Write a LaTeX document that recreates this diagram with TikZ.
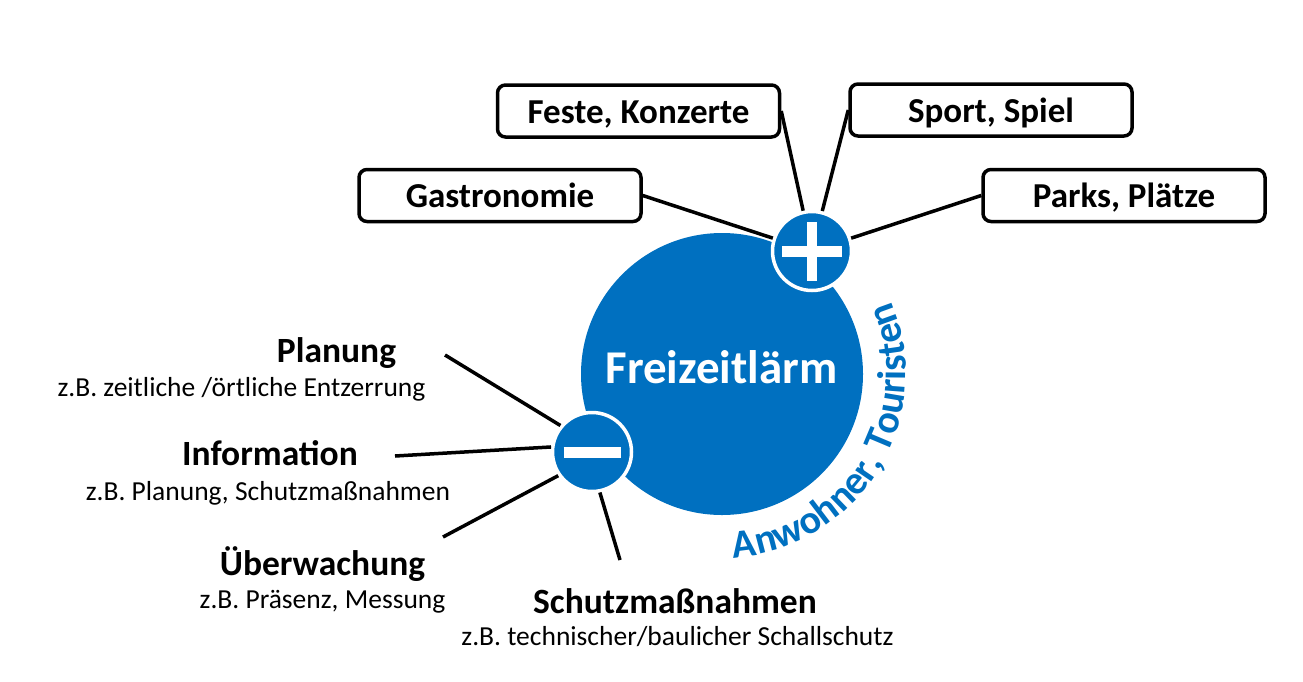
\documentclass[tikz,border=0pt]{standalone}
\usepackage{fontspec}
\setmainfont{Carlito}
\usetikzlibrary{decorations.text}
\definecolor{freiblue}{RGB}{0,112,192}
\tikzset{
  topicbox/.style={draw, rounded corners=8pt, line width=3.5pt, minimum width=282pt, minimum height=52pt, text height=26pt, text depth=2pt, font=\fontsize{35}{42}\selectfont\bfseries},
  signnode/.style={circle, fill=freiblue, draw=white, line width=3.5pt, minimum size=79pt, inner sep=0pt},
  headtext/.style={anchor=base, inner sep=0pt, font=\fontsize{35.5}{42}\selectfont\bfseries},
  subtext/.style={anchor=base, inner sep=0pt, font=\fontsize{27.5}{33}\selectfont},
  cline/.style={line width=3.5pt},
}

\begin{document}
\begin{tikzpicture}[x=1pt, y=-1pt]
  \useasboundingbox (0,0) rectangle (1303,681);

  \node[circle, fill=freiblue, minimum size=282pt, inner sep=0pt] (laerm) at (722,374) {};
  \node[anchor=base, inner sep=0pt, text=white, font=\fontsize{47}{56}\selectfont\bfseries] (laermtxt) at (721.5,383) {Freizeitlärm};
  \path[decorate, decoration={text along path, text align=center,
      text={|\fontsize{40}{48}\selectfont\bfseries\color{freiblue}|Anwohner, Touristen}}]
    (laerm.center) ++(95:184) arc[start angle=95, end angle=-32, radius=184];

  \node[topicbox] (gastro) at (500,195.5) {Gastronomie};
  \node[topicbox] (feste) at (638.5,111) {Feste, Konzerte};
  \node[topicbox] (sport) at (991,110) {Sport, Spiel};
  \node[topicbox] (parks) at (1124,195.5) {Parks, Plätze};

  \node[signnode] (plus) at (812,251) {};
  \node[signnode] (minus) at (592,452) {};
  \draw[white, line width=11pt] ([xshift=-30pt]plus.center) -- ([xshift=30pt]plus.center);
  \draw[white, line width=10pt] ([yshift=-29.5pt]plus.center) -- ([yshift=29.5pt]plus.center);
  \draw[white, line width=11pt] ([xshift=-28.5pt]minus.center) -- ([xshift=28.5pt]minus.center);

  \foreach \b in {gastro,feste} {
    \draw[cline] (\b.east) -- (plus);
  }
  \foreach \b in {sport,parks} {
    \draw[cline] (\b.west) -- (plus);
  }

  \node[headtext] (plan) at (336.5,362) {Planung};
  \node[subtext] (plansub) at (241.5,396) {z.B. zeitliche /örtliche Entzerrung};
  \node[headtext] (info) at (270,465) {Information};
  \node[subtext] (infosub) at (268,500) {z.B. Planung, Schutzmaßnahmen};
  \node[headtext] (ueber) at (322.5,575) {Überwachung};
  \node[subtext] (uebersub) at (322.5,608) {z.B. Präsenz, Messung};
  \node[headtext] (schutz) at (675,613) {Schutzmaßnahmen};
  \node[subtext] (schutzsub) at (677.5,645) {z.B. technischer/baulicher Schallschutz};

  \coordinate (planend) at (445,355);
  \coordinate (infoend) at (395,456);
  \coordinate (ueberend) at (443,537);
  \coordinate (schutzend) at (620,560);
  \draw[cline] (planend) -- (minus.140);
  \draw[cline] (infoend) -- (minus.173);
  \draw[cline] (ueberend) -- (minus.215);
  \draw[cline] (schutzend) -- (minus.281);
\end{tikzpicture}
\end{document}
